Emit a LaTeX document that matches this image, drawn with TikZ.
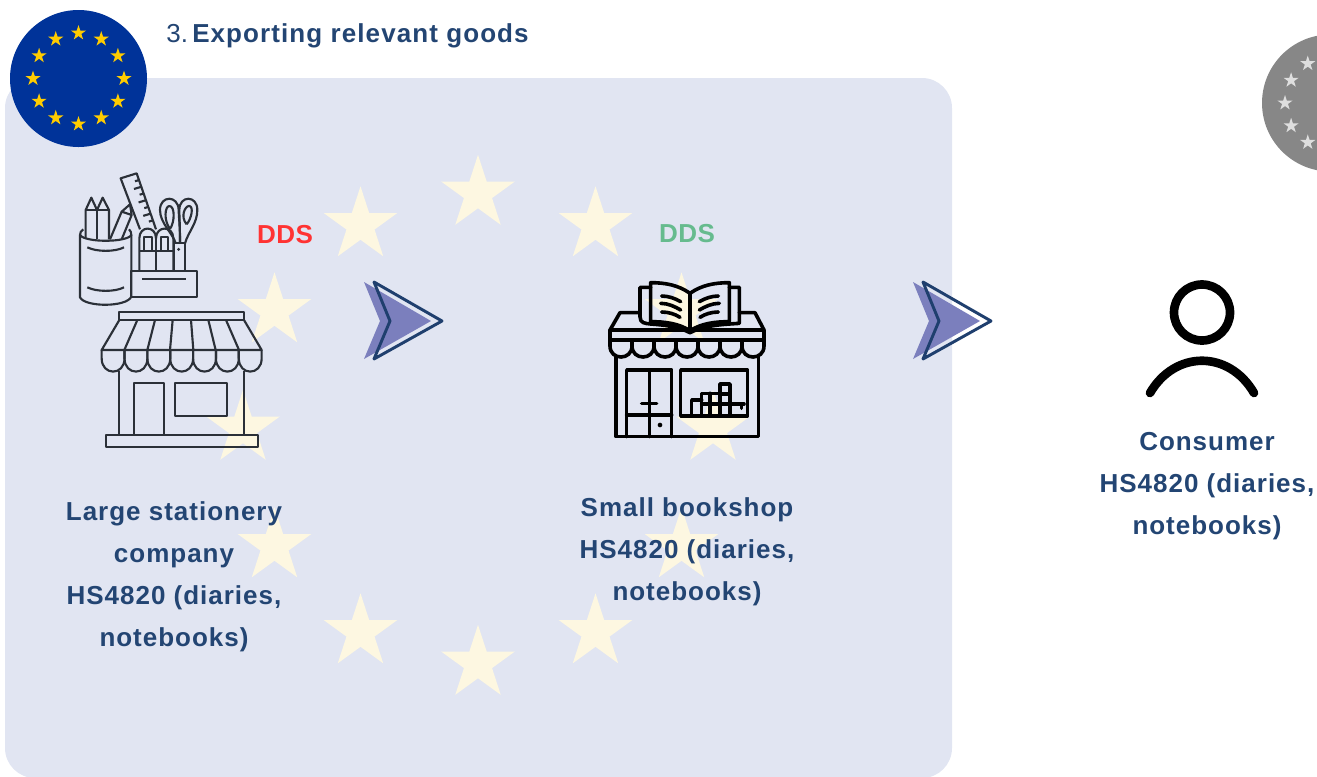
\documentclass[tikz,border=0pt]{standalone}
\usepackage{fontspec}
\usetikzlibrary{shapes.geometric}
\setmainfont{Liberation Sans}
\definecolor{panelblue}{HTML}{E1E5F2}
\definecolor{ringcream}{HTML}{FDF7E1}
\definecolor{flagblue}{HTML}{003399}
\definecolor{flagyellow}{HTML}{FFCC00}
\definecolor{flaggrey}{HTML}{878787}
\definecolor{stargrey}{HTML}{DEDEDE}
\definecolor{textblue}{HTML}{234573}
\definecolor{chevronfill}{HTML}{7B7FBD}
\definecolor{chevronline}{HTML}{1F3F6E}
\definecolor{ddsred}{HTML}{FF3333}
\definecolor{ddsgreen}{HTML}{66BB8E}
\definecolor{iconline}{HTML}{2B3038}
\newcommand{\euflag}[5]{%
  \node[disc,fill=#4] (#1) at (#2,#3) {};
  \foreach \a in {0,30,...,330}
    \node[flagstar,fill=#5] (#1\a) at ([shift={(\a:45.5)}]#2,#3) {};
}
\newcommand{\chevron}[2]{%
  \fill[chevronfill] (#1-10,#2-39) -- (#1+57,#2) -- (#1-10,#2+38) -- (#1+6,#2) -- cycle;
  \draw[chevronline,line width=2.2pt,line join=round] (#1,#2-39) -- (#1+68,#2) -- (#1,#2+38) -- (#1+16,#2) -- cycle;
}
\begin{document}
\begin{tikzpicture}[x=.75pt,y=-.75pt,
        disc/.style={circle,minimum size=102.75pt,inner sep=0pt,outer sep=0pt},
        flagstar/.style={star,star points=5,star point ratio=2.618,minimum size=12pt,inner sep=0pt,outer sep=0pt},
        ringstar/.style={star,star points=5,star point ratio=2.618,minimum size=58pt,inner sep=0pt,outer sep=0pt,fill=ringcream},
        caption/.style={align=center,text=textblue,font=\fontsize{19.5}{31.5}\selectfont\bfseries\addfontfeature{LetterSpace=3.8}},
        ddslabel/.style={font=\fontsize{19.5}{22}\selectfont\bfseries\addfontfeature{LetterSpace=2}},
        thinicon/.style={draw=iconline,line width=1.6pt,line join=round},
        boldicon/.style={draw=black,line width=2.7pt,line join=round,line cap=round}]
     \clip (0,0) rectangle (1317,776);
     \fill[panelblue,rounded corners=22.5pt] (5,78) rectangle (952,778);
     \foreach \a in {0,30,...,330}
        \node[ringstar] (ring\a) at ([shift={(\a:235)}]478,428.5) {};
     \euflag{euflag}{78.5}{78.5}{flagblue}{flagyellow}
     \euflag{greyflag}{1330.5}{103}{flaggrey}{stargrey}
     \node[anchor=base west,text=textblue,inner sep=0pt,font=\fontsize{19.5}{22}\selectfont\addfontfeature{LetterSpace=1}] (titlenum) at (166,42) {3.};
     \node[anchor=base west,text=textblue,inner sep=0pt,font=\fontsize{19.5}{22}\selectfont\bfseries\addfontfeature{LetterSpace=4.2}] (title) at (192,42) {Exporting relevant goods};
     \node[ddslabel,text=ddsred] (ddsred) at (285,235) {DDS};
     \node[ddslabel,text=ddsgreen] (ddsgreen) at (687,234) {DDS};
     \chevron{374}{321}
     \chevron{923}{321}
     \node[caption] (company) at (174,577) {Large stationery\\company\\HS4820 (diaries,\\notebooks)};
     \node[caption] (bookshop) at (687,552) {Small bookshop\\HS4820 (diaries,\\notebooks)};
     \node[caption] (consumer) at (1207,486) {Consumer\\HS4820 (diaries,\\notebooks)};
     \begin{scope}[shift={(60,160)},x=.25pt,y=-.25pt,thinicon]
        \draw (60,225) -- (60,412) .. controls (75,442) and (200,442) .. (214,410) -- (214,225);
        \draw (60,225) .. controls (75,248) and (200,248) .. (214,225) .. controls (214,218) and (212,212) .. (207,208);
        \draw (60,225) .. controls (60,218) and (63,212) .. (70,208);
        \draw (82,262) .. controls (110,276) and (165,276) .. (192,262);
        \draw (82,382) .. controls (110,396) and (165,396) .. (192,382);
        \draw (77,235) -- (77,150) -- (94,113) -- (111,150) -- (128,113) -- (147,150) -- (147,238);
        \draw (77,150) -- (147,150) (111,150) -- (111,238);
        \draw (150,238) -- (185,155) -- (210,133) -- (215,165) -- (185,238) (185,155) -- (215,165);
        \draw (240,208) -- (182,55) -- (230,40) -- (288,208);
        \foreach \t/\l in {.12/12,.24/22,.36/12,.48/22,.6/12,.72/22,.84/12}
           \draw ({230+58*\t},{40+168*\t}) -- ++({-\l},{\l*.3});
        \draw (238,332) -- (238,235) .. controls (238,196) and (288,196) .. (288,235) .. controls (288,196) and (340,196) .. (340,235) -- (340,332);
        \draw (288,235) -- (288,332) (238,272) -- (340,272);
        \draw (252,272) -- (252,230) -- (275,230) -- (275,272);
        \draw (302,272) -- (302,230) -- (325,230) -- (325,272);
        \draw (343,332) -- (343,250) -- (375,250) -- (375,332);
        \draw (347,250) .. controls (340,222) and (300,190) .. (300,150) .. controls (300,105) and (355,105) .. (356,150) .. controls (356,170) and (360,190) .. (360,250);
        \draw (360,250) .. controls (360,190) and (358,170) .. (358,150) .. controls (358,105) and (412,105) .. (412,150) .. controls (412,190) and (385,215) .. (375,250);
        \draw (330,207) .. controls (310,180) and (315,138) .. (328,138) .. controls (345,138) and (345,185) .. (330,207);
        \draw (380,193) .. controls (360,170) and (375,138) .. (387,138) .. controls (402,138) and (395,175) .. (380,193);
        \fill[iconline] (356,268) circle[radius=5];
        \draw (214,332) rectangle (410,410);
        \draw (247,357) -- (378,357);
        \draw (178,455) rectangle (552,480);
        \draw (178,480) -- (125,570) -- (605,570) -- (552,480);
        \foreach \top/\bot in {232/193,285/262,338/330,393/400,445/467,498/537}
           \draw (\top,480) -- (\bot,570);
        \foreach \s in {0,...,6}
           \draw ({125+68.57*\s},570) -- ({125+68.57*\s},595) .. controls ({125+68.57*\s},648) and ({193.57+68.57*\s},648) .. ({193.57+68.57*\s},595) -- ({193.57+68.57*\s},570);
        \draw (178,632) -- (178,825) (552,632) -- (552,825);
        \draw (223,825) rectangle (313,670);
        \draw (345,670) rectangle (500,768);
        \draw (137,825) rectangle (594,862);
     \end{scope}
     \begin{scope}[shift={(590,260)},x=.25pt,y=-.25pt,boldicon]
        \draw (300,100) .. controls (265,75) and (225,68) .. (182,68) -- (182,185) .. controls (225,185) and (265,190) .. (300,212) .. controls (335,190) and (375,185) .. (418,185) -- (418,68) .. controls (375,68) and (335,75) .. (300,100) -- (300,212);
        \draw (182,82) -- (150,82) -- (150,170) .. controls (150,190) and (165,190) .. (182,192) .. controls (225,195) and (265,200) .. (300,218) .. controls (335,200) and (375,195) .. (418,192) -- (448,190) -- (448,82) -- (418,82);
        \draw (215,108) .. controls (235,108) and (255,115) .. (272,125);
        \draw (212,130) .. controls (235,130) and (255,140) .. (272,150);
        \draw (215,156) .. controls (235,156) and (255,162) .. (270,172);
        \draw (385,108) .. controls (365,108) and (345,115) .. (328,125);
        \draw (388,130) .. controls (365,130) and (345,140) .. (328,150);
        \draw (385,156) .. controls (365,156) and (345,162) .. (330,172);
        \draw (150,158) -- (90,158) -- (60,210) (448,158) -- (495,158) -- (522,210);
        \draw (60,210) rectangle (522,240);
        \foreach \s in {0,...,6}
           \draw ({60+66*\s},240) -- ({60+66*\s},258) .. controls ({60+66*\s},302) and ({126+66*\s},302) .. ({126+66*\s},258) -- ({126+66*\s},240);
        \draw (78,290) -- (78,530) -- (505,530) -- (505,290);
        \draw (110,530) -- (110,330) -- (245,330) -- (245,530);
        \draw (178,330) -- (178,530) (110,465) -- (245,465) (155,430) -- (200,430);
        \fill (210,495) circle[radius=7];
        \draw (272,330) rectangle (472,468);
        \draw (305,468) -- (305,420) -- (335,420) (335,468) -- (335,400) -- (390,400);
        \draw (360,400) -- (360,468) (390,468) -- (390,372) -- (420,372) -- (420,468);
        \draw (335,432) -- (420,432) -- (462,432) (390,402) -- (420,402) (455,432) -- (455,445);
     \end{scope}
     \draw[black,line width=6.5pt] (1202,312.5) circle[radius=28];
     \coordinate (shoulderl) at (1150,393);
     \coordinate (shoulderr) at (1254,393);
     \draw[black,line width=6.5pt,line cap=round] (shoulderl) .. controls (1175,350) and (1229,350) .. (shoulderr);
\end{tikzpicture}
\end{document}
